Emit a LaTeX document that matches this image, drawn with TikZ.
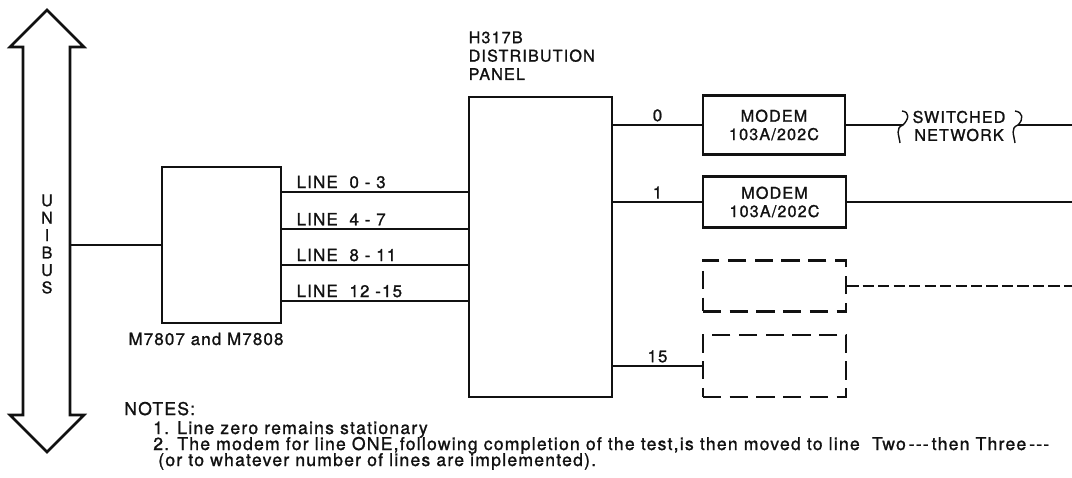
\documentclass[tikz,border=0pt]{standalone}
\usepackage{fontspec}
\setmainfont{TeX Gyre Heros}[FakeBold=1.2]
\newfontfamily\lblfont[LetterSpace=7,FakeBold=1.2]{TeX Gyre Heros}
\newfontfamily\notefont[LetterSpace=7,FakeBold=1.2]{TeX Gyre Heros}
\usepackage{tikz}
\usetikzlibrary{calc,positioning}
\definecolor{inkc}{HTML}{111111}
\newcommand{\pxu}{0.025cm}
\tikzset{
  wire/.style={inkc,line width=1pt},
  dwire/.style={inkc,line width=1pt,dash pattern=on 8pt off 3pt},
  box/.style={draw=inkc,line width=1.8pt,inner sep=0pt,align=center,text=inkc,font=\lblfont\fontsize{11.5}{13}\selectfont},
  dbox/.style={box,dash pattern=on 13pt off 6pt},
  lbl/.style={inner sep=1pt,text=inkc,font=\lblfont\fontsize{12}{13}\selectfont},
  note/.style={anchor=base west,inner sep=0pt,text=inkc,font=\notefont\fontsize{12.5}{13}\selectfont}
}

\begin{document}
\begin{tikzpicture}[x=0.025cm,y=-0.025cm]
\useasboundingbox (0,0) rectangle (1072,478);
% bus
\draw[inkc,line width=1.8pt] (47,10) -- (84,47) -- (70,47) -- (70,415) -- (84,415) -- (47,452)
  -- (10,415) -- (23,415) -- (23,47) -- (10,47) -- cycle;
\node[lbl,align=center,font=\lblfont\fontsize{11.5}{12.4}\selectfont] (unibus) at (47,244) {U\\N\\I\\B\\U\\S};
\coordinate (busR) at (70,245);
% line units and panel
\node[box,minimum width=119*\pxu,minimum height=156*\pxu] (mux) at (221.5,245) {};
\node[lbl,anchor=base] (muxname) at (206,345) {M7807 and M7808};
\node[box,minimum width=143*\pxu,minimum height=300*\pxu] (panel) at (540.5,247) {};
\node[lbl,anchor=base west,align=left,font=\lblfont\fontsize{11.5}{13.1}\selectfont] (pname) at (467,80)
  {H317B\\DISTRIBUTION\\PANEL};
\draw[wire] (busR) -- (mux.west);
\foreach \y/\t [count=\i] in {192/{LINE\ \ 0 - 3},229/{LINE\ \ 4 - 7},265/{LINE\ \ 8 - 11},301/{LINE\ \ 12 -15}}{
  \coordinate (y\i) at (0,\y);
  \draw[wire] (mux.east |- y\i) -- (panel.west |- y\i);
  \node[lbl,anchor=south west] (ln\i) at (295,\y-2) {\t};
}
% modems
\coordinate (eR) at (1072,0);
\node[box,minimum width=142*\pxu,minimum height=59*\pxu] (m0) at (774,125) {MODEM\\103A/202C};
\node[box,minimum width=143*\pxu,minimum height=51*\pxu] (m1) at (774.5,202) {MODEM\\103A/202C};
\node[dbox,minimum width=143*\pxu,minimum height=51*\pxu] (d2) at (774.5,286) {};
\node[dbox,minimum width=143*\pxu,minimum height=62*\pxu] (d15) at (774.5,366) {};
\draw[wire] (panel.east |- m0.west) -- node[lbl,above=1pt] (n0) {0} (m0.west);
\draw[wire] (panel.east |- m1.west) -- node[lbl,above=1pt] (n1) {1} (m1.west);
\draw[wire] (panel.east |- d15.west) -- node[lbl,above=1pt] (n15) {15} (d15.west);
\draw[wire] (m1.east) -- (m1.east -| eR);
\draw[dwire] (d2.east) -- (d2.east -| eR);
% switched network
\coordinate (sq1) at (903,125);
\coordinate (sq2) at (1018,125);
\draw[wire] (m0.east) -- (sq1);
\draw[wire] (sq1) ++(-1,-14) .. controls ++(8,1) and ++(6,-6) .. (sq1)
  .. controls ++(-8,3) and ++(-1,-8) .. ++(-3,18);
\node[lbl,align=center,font=\lblfont\fontsize{11.5}{12.8}\selectfont] (net) at (959,126) {SWITCHED\\NETWORK};
\draw[wire] (sq2) ++(-3,-14) .. controls ++(8,1) and ++(6,-6) .. (sq2)
  .. controls ++(-8,3) and ++(-1,-8) .. ++(-3,18);
\draw[wire] (sq2) -- (sq2 -| eR);
% notes
\node[note] (notes) at (124,415) {NOTES:};
\node[note] (note1) at (153,434) {1. Line zero remains stationary};
\node[note] (note2) at (153,450) {2. The modem for line ONE,following completion of the test,is then moved to line\ \ Two\,-{}-{}-\,then Three\,-{}-{}-};
\node[note] (note3) at (158,466) {(or to whatever number of lines are implemented).};
\end{tikzpicture}
\end{document}
